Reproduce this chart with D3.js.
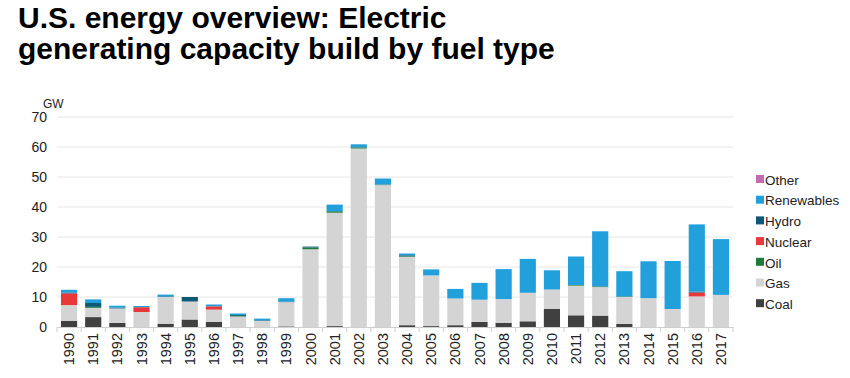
<!DOCTYPE html>
<html>
<head>
<meta charset="utf-8">
<script src="https://cdn.jsdelivr.net/npm/d3@7"></script>
<style>
  body { margin: 0; background: #fff; }
  svg { font-family: "Liberation Sans", Arial, sans-serif; }
</style>
</head>
<body>
<svg width="850" height="378"></svg>
<script>
// data (GW)
var years = ["1990","1991","1992","1993","1994","1995","1996","1997","1998","1999",
  "2000","2001","2002","2003","2004","2005","2006","2007","2008","2009",
  "2010","2011","2012","2013","2014","2015","2016","2017"];
var coal       = [2.1,3.3,1.4,0,1.1,2.5,1.7,0,0,0.2, 0,0.3,0,0,0.6,0.3,0.6,1.7,1.4,1.9, 6.0,3.9,3.8,1.0,0,0,0,0];
var gas        = [5.2,3.1,4.8,5.0,8.9,6.0,4.1,3.5,2.0,8.1, 25.9,37.8,59.5,47.3,22.8,16.9,8.9,7.4,7.9,9.5, 6.5,9.9,9.5,9.0,9.6,6.0,10.2,10.7];
var oil        = [0,0.3,0,0,0,0,0,0.2,0,0, 0.6,0.5,0.4,0.2,0.2,0,0,0,0,0, 0,0.2,0.2,0.2,0,0,0,0];
var nuclear    = [3.9,0,0,1.6,0,0,1.1,0,0,0, 0,0,0,0,0,0,0,0,0,0, 0,0,0,0,0,0,1.3,0];
var hydro      = [0.3,1.3,0.3,0,0.2,1.5,0,0.3,0.2,0.2, 0.3,0,0,0,0.3,0,0,0,0,0, 0,0,0.1,0,0,0,0.3,0];
var renewables = [0.9,1.2,0.6,0.4,0.6,0,0.6,0.5,0.6,1.1, 0,2.2,1.0,2.0,0.6,2.0,3.2,5.6,10.0,11.3, 6.4,9.5,18.3,8.4,12.3,16.0,22.4,18.6];
var other      = [0,0,0,0,0,0,0,0,0,0, 0,0,0,0,0,0,0,0,0,0, 0,0,0,0,0,0,0,0];
var yTicks = [0,10,20,30,40,50,60,70];

var keys = ["Coal","Gas","Oil","Nuclear","Hydro","Renewables","Other"];
var colors = {Coal:"#404040", Gas:"#d4d4d4", Oil:"#1f7a3e", Nuclear:"#e8383a",
  Hydro:"#0d5877", Renewables:"#21a0dc", Other:"#c468b0"};
var series = {Coal:coal, Gas:gas, Oil:oil, Nuclear:nuclear, Hydro:hydro, Renewables:renewables, Other:other};

var rows = years.map(function(y, i){
  var r = {year: y};
  keys.forEach(function(k){ r[k] = series[k][i]; });
  return r;
});

var svg = d3.select("svg");
var plotL = 57, plotR = 733, plotT = 117, plotB = 327;

svg.append("text").attr("x",18).attr("y",28).attr("font-size","30px")
  .attr("font-weight","bold").attr("fill","#000").text("U.S. energy overview: Electric");
svg.append("text").attr("x",18).attr("y",59).attr("font-size","30px")
  .attr("font-weight","bold").attr("fill","#000").text("generating capacity build by fuel type");

var x = d3.scaleBand().domain(years).range([plotL,plotR]).paddingInner(0.33).paddingOuter(0.165);
var y = d3.scaleLinear().domain([0,70]).range([plotB,plotT]);

// gridlines
svg.append("g").selectAll("line").data(yTicks.slice(1)).enter().append("line")
  .attr("x1",plotL).attr("x2",plotR)
  .attr("y1",function(d){return y(d);}).attr("y2",function(d){return y(d);})
  .attr("stroke","#e6e6e6").attr("stroke-width",1);

// y axis labels
var ya = svg.append("g").attr("transform","translate("+plotL+",0)")
  .call(d3.axisLeft(y).tickValues(yTicks).tickSize(0).tickPadding(10));
ya.select(".domain").remove();
ya.selectAll("text").attr("font-size","14px").attr("fill","#222")
  .attr("font-family","Liberation Sans, Arial, sans-serif");

svg.append("text").attr("x",43).attr("y",108).attr("font-size","12px").attr("fill","#222").text("GW");

// stacked bars
var stack = d3.stack().keys(keys)(rows);
svg.append("g").selectAll("g").data(stack).enter().append("g")
  .attr("fill",function(d){return colors[d.key];})
  .selectAll("rect").data(function(d){return d;}).enter().append("rect")
  .attr("x",function(d){return x(d.data.year);})
  .attr("width",x.bandwidth())
  .attr("y",function(d){return y(d[1]);})
  .attr("height",function(d){return y(d[0]) - y(d[1]);});

// x axis
var xa = svg.append("g").attr("transform","translate(0,"+plotB+")")
  .call(d3.axisBottom(x).tickSize(0).tickPadding(6));
xa.select(".domain").attr("stroke","#cfcfcf");
xa.selectAll("text").attr("font-size","14.5px").attr("fill","#222")
  .attr("font-family","Liberation Sans, Arial, sans-serif")
  .attr("transform","rotate(-90)").attr("text-anchor","end")
  .attr("x",-6).attr("y",0).attr("dy","0.35em");
// ticks between bands
var step = x.step();
svg.append("g").selectAll("line").data(d3.range(years.length + 1)).enter().append("line")
  .attr("x1",function(i){return plotL + i*step;}).attr("x2",function(i){return plotL + i*step;})
  .attr("y1",plotB).attr("y2",plotB+5).attr("stroke","#cfcfcf");

// legend
var legendKeys = keys.slice().reverse();
var lg = svg.append("g").selectAll("g").data(legendKeys).enter().append("g")
  .attr("transform",function(d,i){return "translate(756,"+(180 + i*20.7)+")";});
lg.append("rect").attr("x",0).attr("y",-5).attr("width",8).attr("height",8)
  .attr("fill",function(d){return colors[d];});
lg.append("text").attr("x",9).attr("y",0).attr("dy","0.35em").attr("font-size","13.5px")
  .attr("fill","#222").text(function(d){return d;});
</script>
</body>
</html>
